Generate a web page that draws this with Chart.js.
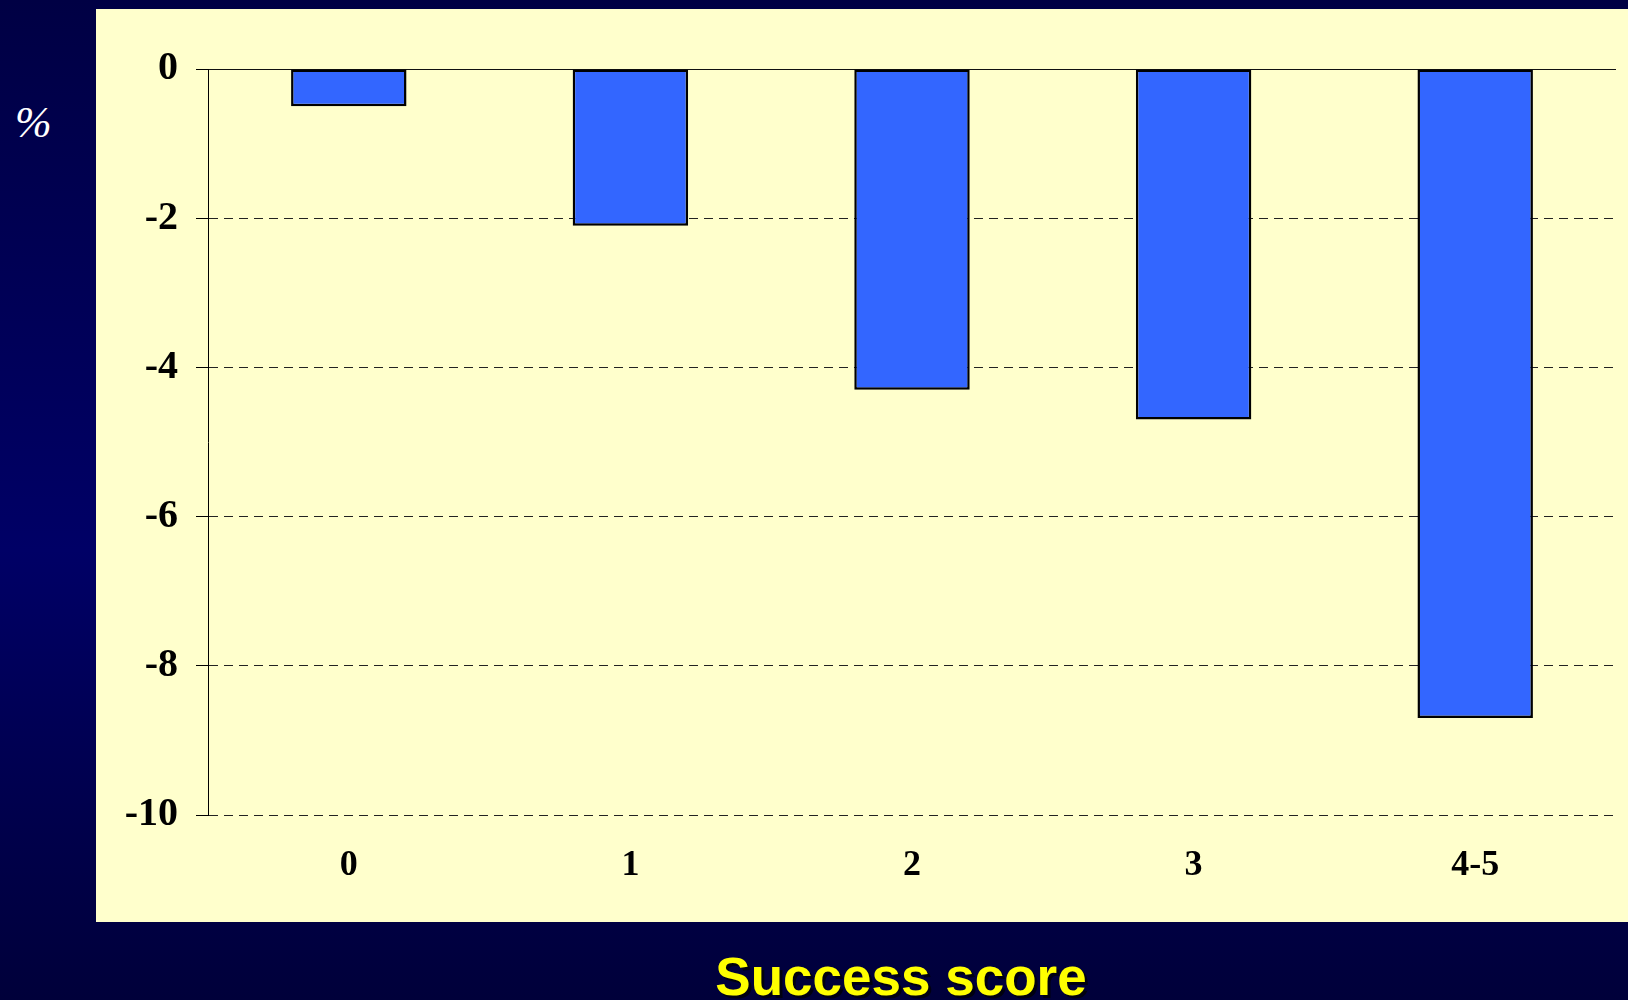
<!DOCTYPE html>
<html>
<head>
<meta charset="utf-8">
<script src="https://cdn.jsdelivr.net/npm/chart.js@4.4.1/dist/chart.umd.min.js"></script>
<style>
    html, body { margin: 0; padding: 0; }
    body {
        width: 1628px; height: 1000px; overflow: hidden; position: relative;
        background: linear-gradient(to bottom, #000044 0%, #000066 55%, #00003a 100%);
    }
    #panel { position: absolute; left: 96px; top: 9px; width: 1532px; height: 913px; background: #ffffcc; }
    #pct { position: absolute; left: 15px; top: 101px; font: italic 44px/1 "Liberation Serif", serif; color: #fff; }
    #xtitle {
        position: absolute; left: 901px; top: 950px; transform: translateX(-50%); white-space: nowrap;
        font: bold 53px/1 "Liberation Sans", Arial, sans-serif; color: #ffff00;
        text-shadow: 3px 3px 0 #000010;
    }
</style>
</head>
<body>
<div id="panel"><canvas id="scoreChart" width="1532" height="913"></canvas></div>
<div id="pct">%</div>
<div id="xtitle">Success score</div>

<script>
// Success score categories and % change per category
const categories = ['0', '1', '2', '3', '4-5'];
const changeValues = [-0.5, -2.1, -4.3, -4.7, -8.7];
const yTicks = [0, -2, -4, -6, -8, -10];

const tickFont = { family: '"Liberation Serif", "Times New Roman", serif', weight: 'bold' };
const yMin = Math.min(...yTicks);
const yMax = Math.max(...yTicks);
const yStep = yTicks[0] - yTicks[1];

new Chart(document.getElementById('scoreChart').getContext('2d'), {
    type: 'bar',
    data: {
        labels: categories,
        datasets: [{
            label: 'Change',
            data: changeValues,
            backgroundColor: '#3366ff',
            borderColor: '#000',
            borderWidth: 2.5,
            borderSkipped: false,
            barPercentage: 0.41,
            categoryPercentage: 1
        }]
    },
    options: {
        responsive: false,
        animation: false,
        layout: { padding: { left: 0, right: 12, top: 60, bottom: 0 } },
        plugins: { legend: { display: false }, tooltip: { enabled: false } },
        scales: {
            x: {
                position: 'bottom',
                grid: { display: false, drawTicks: false },
                border: { display: false },
                ticks: { color: '#000', font: { ...tickFont, size: 36 }, padding: 29, maxRotation: 0 },
                afterFit: (s) => { s.height = 107; }
            },
            y: {
                min: yMin, max: yMax,
                ticks: { stepSize: yStep, color: '#000', font: { ...tickFont, size: 40 }, padding: 18 },
                grid: {
                    color: (c) => c.tick && c.tick.value === 0 ? 'rgba(0,0,0,0)' : '#222',
                    lineWidth: 1, tickLength: 12, tickColor: '#000', tickBorderDash: []
                },
                border: { display: true, color: '#000', width: 1, dash: [9, 6] },
                afterFit: (s) => { s.width = 112; }
            },
            // second, invisible axis only to draw the solid zero line
            y0: {
                position: 'left',
                min: yMin, max: yMax,
                ticks: { display: false, stepSize: yStep },
                grid: {
                    color: (c) => c.tick && c.tick.value === 0 ? '#111' : 'rgba(0,0,0,0)',
                    lineWidth: 1, drawTicks: false
                },
                border: { display: false },
                afterFit: (s) => { s.width = 0; }
            }
        }
    }
});
</script>
</body>
</html>
